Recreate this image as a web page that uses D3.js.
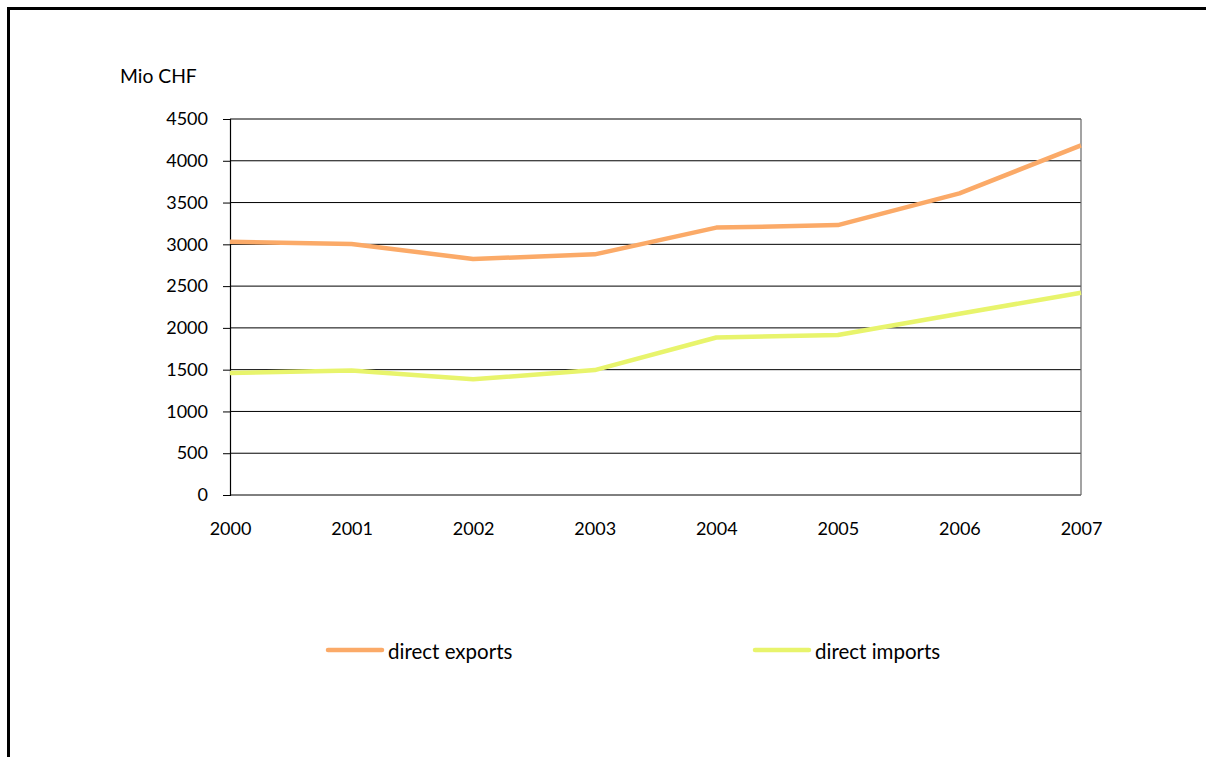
<!DOCTYPE html>
<html>
<head>
<meta charset="utf-8">
<script src="https://cdn.jsdelivr.net/npm/d3@7"></script>
<style>
  html, body { margin: 0; padding: 0; background: #fff; }
  svg { display: block; font-family: Lato, "Open Sans", sans-serif; }
</style>
</head>
<body>
<svg id="chart" width="1206" height="757"></svg>
<script>
// Swiss direct trade, million CHF
const years = ["2000", "2001", "2002", "2003", "2004", "2005", "2006", "2007"];
const directExports = [3030, 3005, 2825, 2880, 3200, 3230, 3610, 4185];
const directImports = [1460, 1490, 1385, 1495, 1885, 1915, 2170, 2420];
const yTicks = [0, 500, 1000, 1500, 2000, 2500, 3000, 3500, 4000, 4500];
const seriesNames = ["direct exports", "direct imports"];
const seriesColors = ["#fbaa68", "#e8f46c"];

const svg = d3.select("#chart");

// outer frame (top and left edges)
svg.append("path")
  .attr("d", "M8.5,757 V8.5 H1206")
  .attr("fill", "none")
  .attr("stroke", "#000")
  .attr("stroke-width", 3);

const plot = { left: 230, right: 1081, top: 119, bottom: 495 };

const x = d3.scalePoint().domain(years).range([plot.left, plot.right]);
const y = d3.scaleLinear().domain([0, 4500]).range([plot.bottom, plot.top]);

// horizontal gridlines
svg.append("g")
  .selectAll("line")
  .data(yTicks)
  .join("line")
  .attr("x1", plot.left)
  .attr("x2", plot.right)
  .attr("y1", d => y(d))
  .attr("y2", d => y(d))
  .attr("stroke", "#000")
  .attr("stroke-width", 1);

// right border of plot area
svg.append("line")
  .attr("x1", plot.right).attr("x2", plot.right)
  .attr("y1", plot.top).attr("y2", plot.bottom)
  .attr("stroke", "#666").attr("stroke-width", 1.2);

// y axis
const yAxis = d3.axisLeft(y).tickValues(yTicks).tickSize(7).tickPadding(15).tickFormat(d3.format("d"));
const gy = svg.append("g").attr("transform", `translate(${plot.left},0)`).call(yAxis);
gy.select(".domain").attr("stroke", "#000").attr("stroke-width", 1.2);
gy.selectAll(".tick line").attr("stroke", "#000");
gy.selectAll(".tick text").attr("font-size", 18).attr("fill", "#000")
  .attr("font-family", "Lato, sans-serif");

// x axis labels (no ticks)
const xAxis = d3.axisBottom(x).tickSize(0).tickPadding(27);
const gx = svg.append("g").attr("transform", `translate(0,${plot.bottom})`).call(xAxis);
gx.select(".domain").remove();
gx.selectAll(".tick text").attr("font-size", 18).attr("fill", "#000")
  .attr("font-family", "Lato, sans-serif");

// y axis unit
svg.append("text")
  .attr("x", 120).attr("y", 83)
  .attr("font-size", 19.3).attr("fill", "#000")
  .text("Mio CHF");

// series lines
const line = d3.line().x((d, i) => x(years[i])).y(d => y(d));
[directExports, directImports].forEach((vals, k) => {
  svg.append("path")
    .datum(vals)
    .attr("d", line)
    .attr("fill", "none")
    .attr("stroke", seriesColors[k])
    .attr("stroke-width", 4.5)
    .attr("stroke-linejoin", "round");
});

// legend
const legendX = [328, 755];
const legend = svg.append("g");
seriesNames.forEach((name, k) => {
  legend.append("line")
    .attr("x1", legendX[k]).attr("x2", legendX[k] + 54)
    .attr("y1", 650).attr("y2", 650)
    .attr("stroke", seriesColors[k])
    .attr("stroke-width", 4.5)
    .attr("stroke-linecap", "round");
  legend.append("text")
    .attr("x", legendX[k] + 60).attr("y", 659)
    .attr("font-size", 20.5).attr("fill", "#000")
    .text(name);
});
</script>
</body>
</html>
